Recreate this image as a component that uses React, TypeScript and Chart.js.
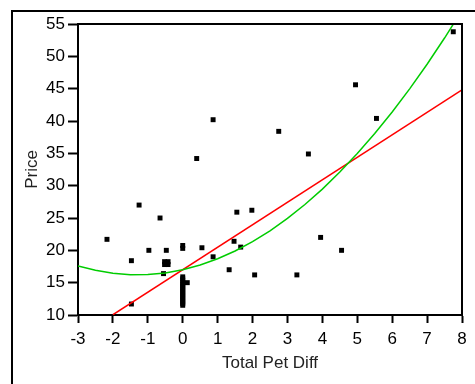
import React, { useEffect, useRef } from "react";
import { Chart, registerables } from "chart.js";

Chart.register(...registerables);

// Scatter observations
const pointX = [
  0.87, 0.4, 7.75, 4.95, 5.55, 2.75, 3.6,
  -2.17, -1.25, -0.65, -1.47, -0.97, -0.47,
  -0.52, -0.42, -0.52, -0.42,
  -0.55, 0, 0, 0.13, -1.47,
  0, 0, 0, 0, 0, 0, 0, 0, 0, 0, 0, 0, 0, 0, 0, 0, 0, 0,
  0.55, 0.87, 1.33, 1.47, 1.55, 1.98, 1.66, 2.06, 3.27, 3.95, 4.55,
];
const pointY = [
  40.2, 34.2, 53.8, 45.6, 40.4, 38.4, 34.9,
  21.7, 27.0, 25.0, 18.4, 20.0, 20.0,
  18.25, 18.25, 17.8, 17.8,
  16.4, 20.75, 20.3, 15.0, 11.7,
  11.5, 11.75, 12.0, 12.25, 12.5, 12.75, 13.0, 13.25, 13.5, 13.75, 14.0, 14.25, 14.5, 14.75, 15.0, 15.3, 15.6, 15.9,
  20.4, 19.0, 17.0, 21.4, 25.9, 26.2, 20.5, 16.2, 16.2, 22.0, 20.0,
];

// Linear fit (red)
const linearX = [-2, 8];
const linearY = [10.04, 44.8];

// Polynomial fit (green)
const curveX = [-3, -2.5, -2, -1.5, -1, -0.5, 0, 0.5, 1, 1.5, 2, 2.5, 3, 3.5, 4, 4.5, 5, 5.5, 6, 6.5, 7, 7.5, 7.8];
const curveY = [17.6, 16.91, 16.45, 16.23, 16.25, 16.51, 17.0, 17.73, 18.7, 19.9, 21.34, 23.02, 24.93, 27.08, 29.47, 32.1, 34.96, 38.06, 41.4, 44.97, 48.78, 52.83, 55.4];

const xMin = -3;
const xMax = 8;
const yMin = 10;
const yMax = 55;
const xStep = 1;
const yStep = 5;

const xTitle = "Total Pet Diff";
const yTitle = "Price";

const FONT = "'Liberation Sans', Arial, sans-serif";

const framePlugin = {
  id: "frame",
  beforeDraw(chart: any) {
    const ctx = chart.ctx;
    ctx.save();
    ctx.fillStyle = "#fff";
    ctx.fillRect(0, 0, chart.width, chart.height);
    ctx.strokeStyle = "#000";
    ctx.lineWidth = 2;
    ctx.beginPath();
    ctx.moveTo(12, chart.height);
    ctx.lineTo(12, 11);
    ctx.lineTo(chart.width, 11);
    ctx.stroke();
    ctx.restore();
  },
  afterDraw(chart: any) {
    const { ctx, chartArea } = chart;
    ctx.save();
    ctx.strokeStyle = "#000";
    ctx.lineWidth = 2;
    ctx.beginPath();
    ctx.moveTo(chartArea.left, chartArea.top);
    ctx.lineTo(chartArea.right, chartArea.top);
    ctx.lineTo(chartArea.right, chartArea.bottom);
    ctx.stroke();
    ctx.restore();
  },
};

export default function App() {
  const ref = useRef<HTMLCanvasElement | null>(null);

  useEffect(() => {
    if (!ref.current) return;
    const chart = new Chart(ref.current, {
      type: "scatter",
      data: {
        datasets: [
          {
            label: "Poly",
            data: curveX.map((x, i) => ({ x, y: curveY[i] })),
            showLine: true,
            borderColor: "#00cc00",
            borderWidth: 1.5,
            pointRadius: 0,
            fill: false,
            tension: 0,
          },
          {
            label: "Linear",
            data: linearX.map((x, i) => ({ x, y: linearY[i] })),
            showLine: true,
            borderColor: "#ff0000",
            borderWidth: 1.5,
            pointRadius: 0,
            fill: false,
          },
          {
            label: "Price",
            data: pointX.map((x, i) => ({ x, y: pointY[i] })),
            showLine: false,
            pointStyle: "rect",
            pointRadius: 3.5,
            backgroundColor: "#000",
            borderColor: "#000",
            borderWidth: 0,
          },
        ],
      },
      options: {
        animation: false,
        responsive: false,
        devicePixelRatio: 1,
        layout: { padding: { left: 0, top: 24, right: 13, bottom: 0 } },
        plugins: {
          legend: { display: false },
          tooltip: { enabled: false },
        },
        scales: {
          x: {
            type: "linear",
            min: xMin,
            max: xMax,
            ticks: {
              stepSize: xStep,
              color: "#000",
              font: { family: FONT, size: 17 },
              padding: 6,
              maxRotation: 0,
              autoSkip: false,
            },
            grid: {
              drawOnChartArea: false,
              drawTicks: true,
              tickLength: 8,
              tickWidth: 2,
              tickColor: "#000",
            },
            border: { display: true, color: "#000", width: 2 },
            title: {
              display: true,
              text: xTitle,
              color: "#222",
              font: { family: FONT, size: 17 },
              padding: { top: 0, bottom: 10 },
            },
            afterFit: (s: any) => {
              s.height = 69;
            },
          },
          y: {
            type: "linear",
            min: yMin,
            max: yMax,
            ticks: {
              stepSize: yStep,
              color: "#000",
              font: { family: FONT, size: 17 },
              padding: 3,
              autoSkip: false,
            },
            grid: {
              drawOnChartArea: false,
              drawTicks: true,
              tickLength: 10,
              tickWidth: 2,
              tickColor: "#000",
            },
            border: { display: true, color: "#000", width: 2 },
            title: {
              display: true,
              text: yTitle,
              color: "#222",
              font: { family: FONT, size: 17 },
              padding: { top: 22, bottom: 0 },
            },
            afterFit: (s: any) => {
              s.width = 78;
            },
          },
        },
      },
      plugins: [framePlugin],
    } as any);
    return () => chart.destroy();
  }, []);

  return (
    <div style={{ position: "fixed", left: 0, top: 0, width: 475, height: 384, background: "#fff" }}>
      <canvas ref={ref} width={475} height={384} style={{ display: "block" }} />
    </div>
  );
}
